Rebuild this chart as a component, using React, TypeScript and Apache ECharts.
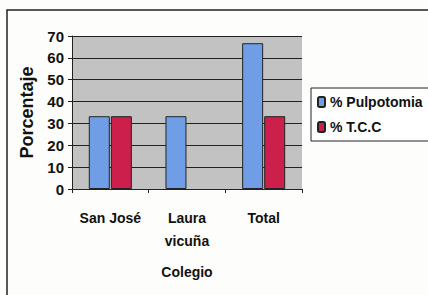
import React, { useEffect, useRef } from "react";
import * as echarts from "echarts";

const categories = ["San José", "Laura\nvicuña", "Total"];
const pulpotomia = [33.3, 33.3, 66.7];
const tcc = [33.3, 0, 33.3];
const seriesNames = ["% Pulpotomia", "% T.C.C"];

export default function App() {
  const ref = useRef<HTMLDivElement>(null);
  useEffect(() => {
    const chart = echarts.init(ref.current!, null, { renderer: "svg" });
    const font = "'Liberation Sans', Arial, sans-serif";
    const noZero = (arr: number[]) => arr.map((v) => (v === 0 ? "-" : v));
    chart.setOption({
      animation: false,
      backgroundColor: "#fdfdfb",
      textStyle: { fontFamily: font },
      graphic: [
        {
          type: "rect",
          shape: { x: 7, y: 10, width: 440, height: 300 },
          style: { fill: "none", stroke: "#222", lineWidth: 1.5 },
          z: -1,
        },
      ],
      legend: {
        orient: "vertical",
        left: 311,
        top: 88,
        width: 130,
        itemWidth: 7,
        itemHeight: 10,
        itemGap: 11,
        padding: [7, 30, 7, 6],
        borderColor: "#222",
        borderWidth: 1,
        backgroundColor: "#fff",
        textStyle: { fontSize: 14, fontWeight: "bold", color: "#111", fontFamily: font },
        data: seriesNames,
      },
      grid: { left: 72, right: 126, top: 36, bottom: 106, backgroundColor: "#c2c2c2", show: true, borderWidth: 0 },
      xAxis: {
        type: "category",
        data: categories,
        name: "Colegio",
        nameLocation: "middle",
        nameGap: 76,
        nameTextStyle: { fontSize: 14, fontWeight: "bold", color: "#111", fontFamily: font },
        axisLine: { lineStyle: { color: "#222", width: 1 } },
        axisTick: { show: true, length: 4, lineStyle: { color: "#222" } },
        axisLabel: { interval: 0, fontSize: 14, fontWeight: "bold", color: "#111", margin: 17, lineHeight: 23, fontFamily: font },
      },
      yAxis: {
        type: "value",
        min: 0,
        max: 70,
        interval: 10,
        name: "Porcentaje",
        nameLocation: "middle",
        nameGap: 33,
        nameTextStyle: { fontSize: 18, fontWeight: "bold", color: "#111", fontFamily: font },
        axisLine: { show: true, lineStyle: { color: "#222", width: 1 } },
        axisTick: { show: true, length: 4, lineStyle: { color: "#222" } },
        axisLabel: { fontSize: 15, fontWeight: "bold", color: "#111", margin: 8, fontFamily: font },
        splitLine: { show: true, lineStyle: { color: "#222", width: 1.2 } },
      },
      series: [
        {
          name: seriesNames[0],
          type: "bar",
          data: noZero(pulpotomia),
          barWidth: 21,
          barGap: "5%",
          itemStyle: { color: "#6f9de6", borderColor: "#222", borderWidth: 1 },
        },
        {
          name: seriesNames[1],
          type: "bar",
          data: noZero(tcc),
          barWidth: 21,
          itemStyle: { color: "#cc1f4c", borderColor: "#222", borderWidth: 1 },
        },
      ],
    });
    return () => chart.dispose();
  }, []);
  return <div ref={ref} style={{ position: "fixed", left: 0, top: 0, width: 428, height: 295 }} />;
}
